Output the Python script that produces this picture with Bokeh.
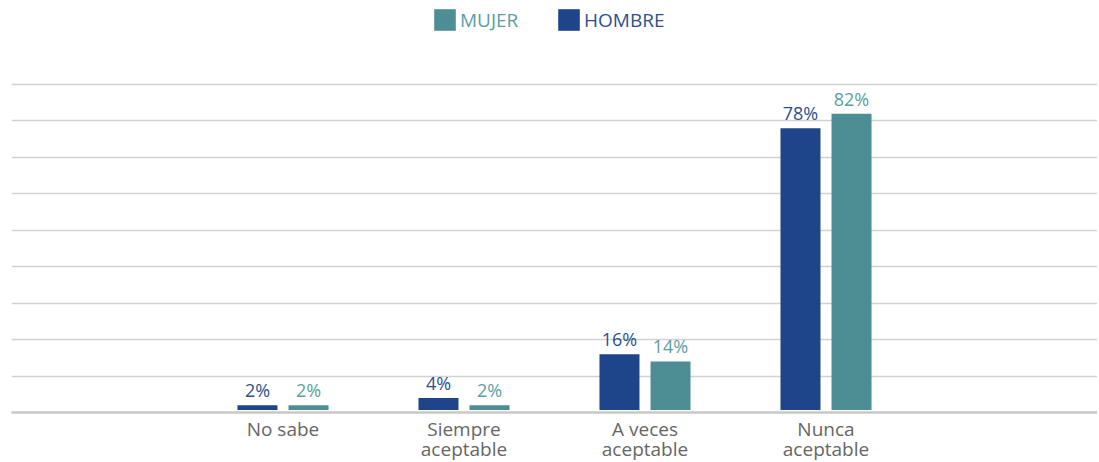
from bokeh.plotting import figure
from bokeh.models import Range1d, FixedTicker, Legend, LegendItem
from bokeh.embed import file_html
from bokeh.resources import INLINE
from bokeh.core.properties import value

# ---- data ----
categories = ["No sabe", "Siempre\naceptable", "A veces\naceptable", "Nunca\naceptable"]
hombre = [2, 4, 16, 78]
mujer = [2, 2, 14, 82]
grid_ticks = [10, 20, 30, 40, 50, 60, 70, 80, 90]

# ---- style ----
C_HOMBRE = "#1e4589"
C_MUJER = "#4c8e94"
C_HOMBRE_TXT = "#2d4f8e"
C_MUJER_TXT = "#5c9ea2"
FONT = "Open Sans"
BAR_W = 0.221
OFFSET = 0.141
GAP = 0.7

n_slots = len(categories) + 2
centers = [i + 1.5 for i in range(len(categories))]

p = figure(frame_width=1086, frame_height=408,
           x_range=Range1d(0, n_slots), y_range=Range1d(0, 111.96),
           output_backend="svg", toolbar_location=None,
           min_border_left=11, min_border_right=0, min_border_top=4, min_border_bottom=50)
p.outline_line_color = None
p.background_fill_color = "white"
p.border_fill_color = "white"

p.yaxis.visible = False
p.xgrid.visible = False
p.ygrid.ticker = FixedTicker(ticks=grid_ticks)
p.ygrid.grid_line_color = "#d2d2d2"
p.ygrid.grid_line_width = 1.5

ax = p.xaxis[0]
ax.ticker = FixedTicker(ticks=centers)
ax.major_label_overrides = {c: lab for c, lab in zip(centers, categories)}
ax.major_tick_line_color = None
ax.minor_tick_line_color = None
ax.major_tick_out = 0
ax.major_tick_in = 0
ax.axis_line_color = "#c8c8c8"
ax.axis_line_width = 2.5
ax.major_label_text_font = FONT
ax.major_label_text_font_size = "19px"
ax.major_label_text_color = "#666666"
ax.major_label_text_line_height = 0.78
ax.major_label_standoff = 3

xh = [c - OFFSET for c in centers]
xm = [c + OFFSET for c in centers]

r_h = p.vbar(x=xh, top=hombre, bottom=GAP, width=BAR_W, fill_color=C_HOMBRE, line_color=None)
r_m = p.vbar(x=xm, top=mujer, bottom=GAP, width=BAR_W, fill_color=C_MUJER, line_color=None)

p.text(x=xh, y=hombre, text=[f"{v}%" for v in hombre], text_align="center",
       text_baseline="bottom", y_offset=-3, text_font=value(FONT),
       text_font_size="18px", text_color=C_HOMBRE_TXT)
p.text(x=xm, y=mujer, text=[f"{v}%" for v in mujer], text_align="center",
       text_baseline="bottom", y_offset=-3, text_font=value(FONT),
       text_font_size="18px", text_color=C_MUJER_TXT)

def make_legend(label, rend, color, loc):
    return Legend(items=[LegendItem(label=label, renderers=[rend])], location=loc,
                  orientation="horizontal", padding=0, margin=0, spacing=0,
                  glyph_width=27, glyph_height=27, label_height=27, label_standoff=2,
                  label_text_font=FONT, label_text_font_size="19px",
                  label_text_color=color, background_fill_alpha=0, border_line_alpha=0)

p.add_layout(make_legend("MUJER", r_m, C_MUJER_TXT, (420, 379)))
p.add_layout(make_legend("HOMBRE", r_h, C_HOMBRE_TXT, (544, 379)))

open("out.html", "w").write(file_html(p, INLINE))
